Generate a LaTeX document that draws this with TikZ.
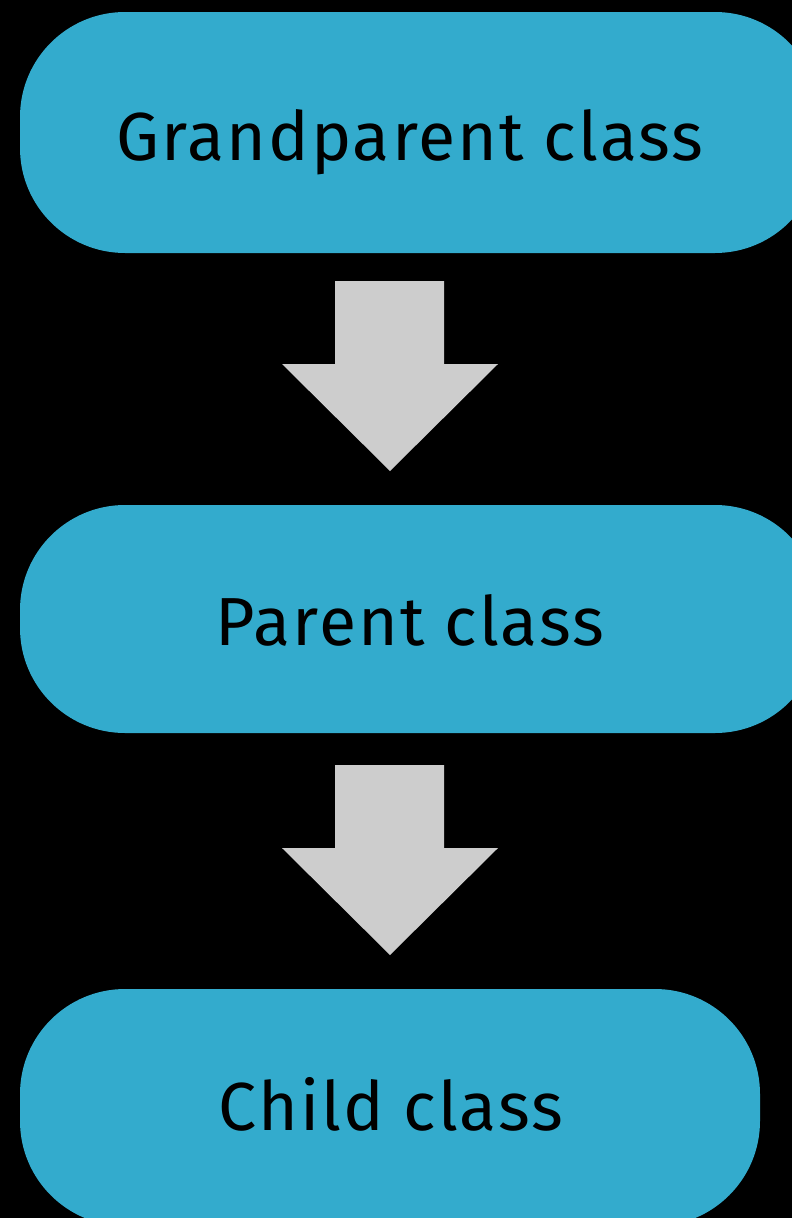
\documentclass[tikz,border=0pt]{standalone}
\usepackage{fontspec}
\setmainfont[LetterSpace=3]{Fira Sans}
\definecolor{boxblue}{HTML}{33ABCD}
\definecolor{arrowgray}{HTML}{CDCDCD}
\begin{document}
\begin{tikzpicture}[x=1pt,y=-1pt,
  classbox/.style={fill=boxblue, rounded corners=105pt, draw=none},
  label/.style={font=\fontsize{68}{80}\selectfont, text=black, inner sep=0pt, anchor=base},
  blockarrow/.style={fill=arrowgray, draw=none}]
\useasboundingbox (0,0) rectangle (792,1218);
\fill[black] (0,0) rectangle (792,1218);
\clip (0,0) rectangle (792,1218);
% boxes
\path[classbox] (20,12) rectangle (820,253);
\path[classbox] (20,505) rectangle (820,733);
\path[classbox] (20,989) rectangle (760,1226);
% labels
\node[label] (t1) at (410,160) {Grandparent class};
\node[label] (t2) at (410,645) {Parent class};
\node[label] (t3) at (391,1130) {Child class};
% arrows
\fill[blockarrow] (335,281) -- (444,281) -- (444,364) -- (498,364) -- (390,471) -- (282,364) -- (335,364) -- cycle;
\fill[blockarrow] (335,765) -- (444,765) -- (444,848) -- (498,848) -- (390,955) -- (282,848) -- (335,848) -- cycle;
\end{tikzpicture}
\end{document}
